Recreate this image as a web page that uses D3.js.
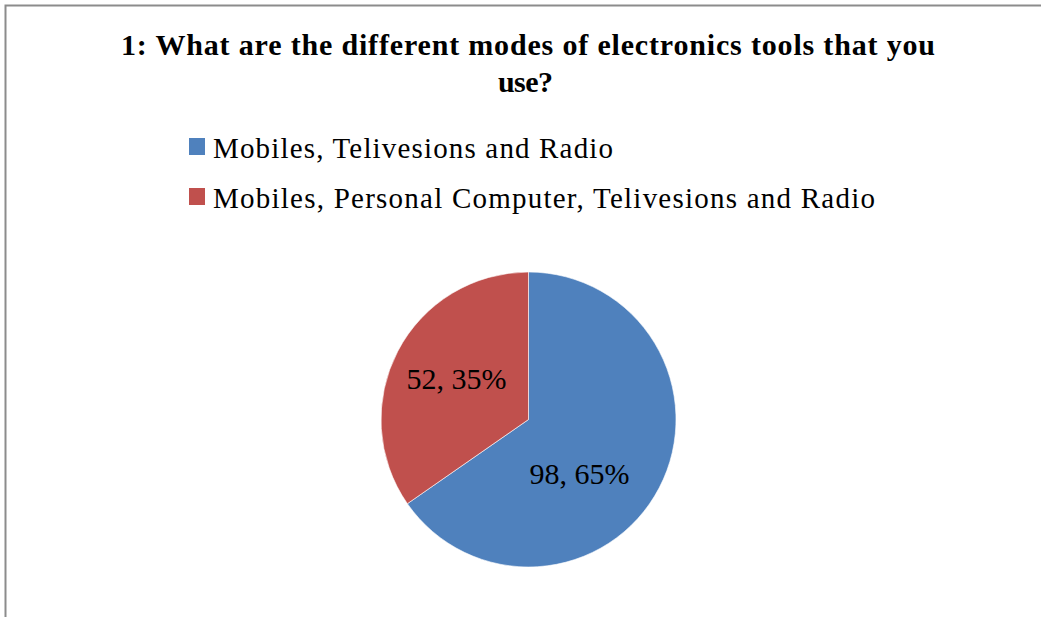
<!DOCTYPE html>
<html>
<head>
<meta charset="utf-8">
<script src="https://cdn.jsdelivr.net/npm/d3@7"></script>
<style>
  html, body { margin: 0; padding: 0; background: #fff; }
  svg { display: block; }
  text { font-family: "Liberation Serif", "Times New Roman", serif; fill: #000; }
</style>
</head>
<body>
<svg id="chart" width="1041" height="617"></svg>
<script>
// Survey answers: counts per group of devices used
const titleLines = ["1: What are the different modes of electronics tools that you", "use?"];
const categories = ["Mobiles, Telivesions and Radio", "Mobiles, Personal Computer, Telivesions and Radio"];
const counts = [98, 52];
const colors = ["#4F81BD", "#C0504D"];

const W = 1041, H = 617;
const svg = d3.select("#chart");

// chart frame (left and top edges visible)
svg.append("rect")
  .attr("x", 5.5).attr("y", 5.5)
  .attr("width", W + 10).attr("height", H + 10)
  .attr("fill", "#fff")
  .attr("stroke", "#8c8c8c")
  .attr("stroke-width", 2);

// title, set wide like the document text
const titleWidths = [814, 55];
const titleX = [528, 525.5];
svg.append("g")
  .selectAll("text")
  .data(titleLines)
  .join("text")
  .attr("text-anchor", "middle")
  .attr("font-weight", "bold")
  .attr("font-size", 30)
  .attr("x", (d, i) => titleX[i])
  .attr("y", (d, i) => 55 + i * 37)
  .attr("textLength", (d, i) => titleWidths[i])
  .attr("lengthAdjust", "spacing")
  .text(d => d);

// legend
const legendWidths = [400, 662];
const legend = svg.append("g");
const rows = legend.selectAll("g")
  .data(categories)
  .join("g")
  .attr("transform", (d, i) => `translate(189, ${138 + i * 50})`);
rows.append("rect")
  .attr("width", 16).attr("height", 17)
  .attr("fill", (d, i) => colors[i]);
rows.append("text")
  .attr("x", 24).attr("y", 20)
  .attr("font-size", 29)
  .attr("textLength", (d, i) => legendWidths[i])
  .attr("lengthAdjust", "spacing")
  .text(d => d);

// pie
const cx = 528.5, cy = 419.5, R = 147.5;
const total = d3.sum(counts);
const pie = d3.pie().sort(null).value(d => d)(counts);
const arc = d3.arc().innerRadius(0).outerRadius(R);
const g = svg.append("g").attr("transform", `translate(${cx},${cy})`);
g.selectAll("path")
  .data(pie)
  .join("path")
  .attr("d", arc)
  .attr("fill", (d, i) => colors[i])
  .attr("stroke", "#fff")
  .attr("stroke-width", 0.6);

// data labels: "value, percent"
const labelArc = d3.arc().innerRadius(0).outerRadius(R * 1.1);
const nudge = [[-21, 20], [0, 0]];
g.selectAll("text.lbl")
  .data(pie)
  .join("text")
  .attr("class", "lbl")
  .attr("text-anchor", "middle")
  .attr("font-size", 30)
  .attr("transform", (d, i) => {
    const [x, y] = labelArc.centroid(d);
    return `translate(${x + nudge[i][0]},${y + nudge[i][1] + 7})`;
  })
  .text(d => `${d.data}, ${Math.round(d.data / total * 100)}%`);
</script>
</body>
</html>
